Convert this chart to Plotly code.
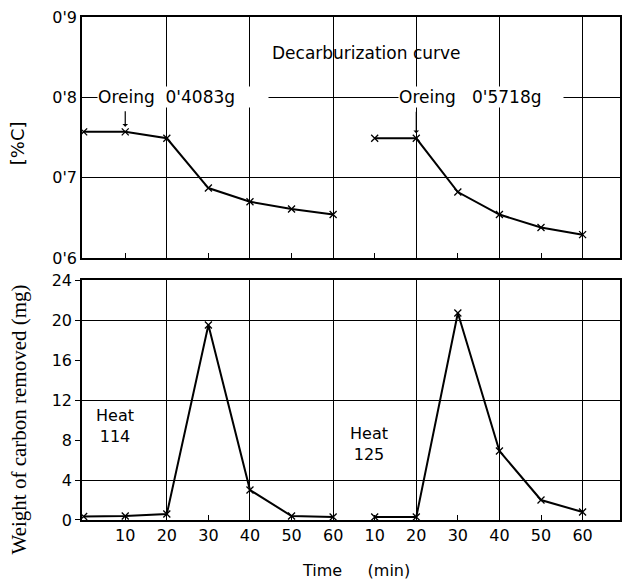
import plotly.graph_objects as go

# ---------------- data ----------------
heat114_minutes = [0, 10, 20, 30, 40, 50, 60]
heat125_minutes = [10, 20, 30, 40, 50, 60]
heat125_offset = 60  # second heat is drawn to the right of the first one

pct_c_114 = [0.757, 0.757, 0.749, 0.687, 0.670, 0.661, 0.654]
pct_c_125 = [0.749, 0.749, 0.682, 0.654, 0.638, 0.629]

removed_114 = [0.35, 0.4, 0.6, 19.5, 3.0, 0.4, 0.3]
removed_125 = [0.3, 0.3, 20.7, 6.9, 2.0, 0.8]

x_tick_vals = [10, 20, 30, 40, 50, 60, 70, 80, 90, 100, 110, 120]
x_tick_text = ["10", "20", "30", "40", "50", "60", "10", "20", "30", "40", "50", "60"]
x_grid_vals = [20, 40, 60, 80, 100, 120]
x_minor_vals = [10, 30, 50, 70, 90, 110]

top_tick_vals = [0.6, 0.7, 0.8, 0.9]
top_tick_text = ["0'6", "0'7", "0'8", "0'9"]

bottom_tick_vals = [0, 4, 8, 12, 16, 20, 24]
bottom_grid_vals = [4, 12, 20]

x125 = [t + heat125_offset for t in heat125_minutes]

SANS = "DejaVu Sans"
SERIF = "Liberation Serif"
BLK = "black"

marker = dict(symbol="x-thin", size=7, color=BLK, line=dict(width=1.3, color=BLK))

fig = go.Figure()

# top panel: %C
fig.add_trace(go.Scatter(x=heat114_minutes, y=pct_c_114, mode="lines+markers",
                         line=dict(color=BLK, width=2),
                         marker=marker, xaxis="x", yaxis="y", showlegend=False))
fig.add_trace(go.Scatter(x=x125, y=pct_c_125, mode="lines+markers",
                         line=dict(color=BLK, width=2),
                         marker=marker, xaxis="x", yaxis="y", showlegend=False))
# bottom panel: carbon removed
fig.add_trace(go.Scatter(x=heat114_minutes, y=removed_114, mode="lines+markers",
                         line=dict(color=BLK, width=2),
                         marker=marker, xaxis="x2", yaxis="y2", showlegend=False))
fig.add_trace(go.Scatter(x=x125, y=removed_125, mode="lines+markers",
                         line=dict(color=BLK, width=2),
                         marker=marker, xaxis="x2", yaxis="y2", showlegend=False))
# empty traces so the grid-only overlay axes get their subplots
fig.add_trace(go.Scatter(x=[], y=[], xaxis="x3", yaxis="y2", showlegend=False, hoverinfo="skip"))
fig.add_trace(go.Scatter(x=[], y=[], xaxis="x2", yaxis="y3", showlegend=False, hoverinfo="skip"))

xr = [-0.4, 129]
frame = dict(showline=True, linecolor=BLK, linewidth=1.5, mirror=True, zeroline=False)
tickfont = dict(family=SANS, size=16, color=BLK)

fig.update_layout(
    width=624, height=583,
    margin=dict(l=82, r=2, t=17, b=63),
    paper_bgcolor="white", plot_bgcolor="white",
    xaxis=dict(domain=[0, 1], anchor="y", range=xr, tickvals=x_minor_vals,
               ticks="inside", ticklen=5, tickwidth=1.3, tickcolor=BLK,
               showticklabels=False, showgrid=False,
               minor=dict(tickvals=x_grid_vals, showgrid=True, gridcolor=BLK,
                          gridwidth=1.2, ticks=""),
               **frame),
    yaxis=dict(domain=[0.521, 1], anchor="x", range=[0.6, 0.9], tickvals=top_tick_vals,
               ticktext=top_tick_text, ticks="", showgrid=True, gridcolor=BLK,
               gridwidth=1.2, tickfont=tickfont, **frame),
    xaxis2=dict(domain=[0, 1], anchor="y2", range=xr, tickvals=x_tick_vals,
                ticktext=x_tick_text, ticks="inside", ticklen=5, tickwidth=1.3,
                tickcolor=BLK, showgrid=False, tickfont=tickfont, **frame),
    yaxis2=dict(domain=[0, 0.477], anchor="x2", range=[0, 24], tickvals=bottom_tick_vals,
                ticks="outside", ticklen=5, tickwidth=1.3, tickcolor=BLK,
                showgrid=False, tickfont=tickfont, **frame),
    xaxis3=dict(overlaying="x2", anchor="y2", range=xr, tickvals=x_grid_vals,
                showgrid=True, gridcolor=BLK, gridwidth=1.2, showticklabels=False,
                ticks="", showline=False, zeroline=False),
    yaxis3=dict(overlaying="y2", anchor="x2", range=[0, 24], tickvals=bottom_grid_vals,
                showgrid=True, gridcolor=BLK, gridwidth=1.2, showticklabels=False,
                ticks="", showline=False, zeroline=False),
)

ann_font = dict(family=SANS, size=16, color=BLK)
fig.add_annotation(x=68, y=0.855, xref="x", yref="y", text="Decarburization curve",
                   showarrow=False, font=dict(family=SANS, size=17, color=BLK))
fig.add_annotation(x=3.3, y=0.8, xref="x", yref="y", xanchor="left", yanchor="middle",
                   text="Oreing\u00a0\u00a00'4083g\u00a0\u00a0\u00a0\u00a0\u00a0\u00a0",
                   showarrow=False, font=dict(family=SANS, size=17, color=BLK),
                   bgcolor="white", borderpad=0)
fig.add_annotation(x=75.6, y=0.8, xref="x", yref="y", xanchor="left", yanchor="middle",
                   text="Oreing\u00a0\u00a0\u00a00'5718g\u00a0\u00a0\u00a0\u00a0",
                   showarrow=False, font=dict(family=SANS, size=17, color=BLK),
                   bgcolor="white", borderpad=0)
# arrows from the labels to the moment the ore was added
fig.add_annotation(x=10, y=pct_c_114[1], xref="x", yref="y", text="", showarrow=True,
                   ax=0, ay=-22, arrowhead=1, arrowsize=0.8, arrowwidth=1.2,
                   arrowcolor=BLK, standoff=5)
fig.add_annotation(x=80, y=pct_c_125[1], xref="x", yref="y", text="", showarrow=True,
                   ax=0, ay=-28, arrowhead=1, arrowsize=0.8, arrowwidth=1.2,
                   arrowcolor=BLK, standoff=5)

fig.add_annotation(x=7.5, y=9.4, xref="x2", yref="y2", text="Heat<br>114",
                   showarrow=False, font=ann_font)
fig.add_annotation(x=68.7, y=7.6, xref="x2", yref="y2", text="Heat<br>125",
                   showarrow=False, font=ann_font)

# axis titles
fig.add_annotation(x=-0.12, y=0.75, xref="paper", yref="paper", text="[%C]",
                   xanchor="center", yanchor="middle",
                   textangle=-90, showarrow=False, font=dict(family=SANS, size=18, color=BLK))
fig.add_annotation(x=-0.117, y=0.2, xref="paper", yref="paper",
                   xanchor="center", yanchor="middle",
                   text="Weight of carbon removed (mg)", textangle=-90, showarrow=False,
                   font=dict(family=SERIF, size=21, color=BLK))
fig.add_annotation(x=0.51, y=-0.1, xref="paper", yref="paper",
                   text="Time\u00a0\u00a0\u00a0\u00a0\u00a0(min)", showarrow=False,
                   xanchor="center", yanchor="middle",
                   font=dict(family=SANS, size=16, color=BLK))

fig.write_html("out.html", config={"displayModeBar": False},
               post_script="document.body.style.margin='0px';document.body.style.overflow='hidden';")
